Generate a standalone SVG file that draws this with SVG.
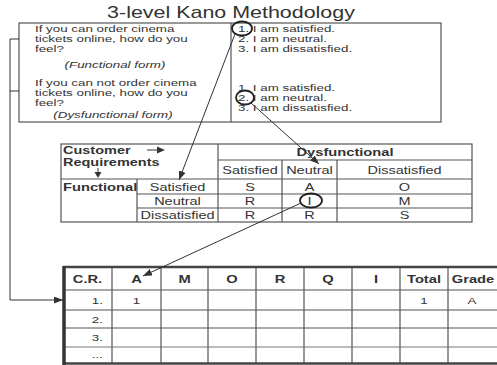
<svg xmlns="http://www.w3.org/2000/svg" width="497" height="365" viewBox="0 0 497 365">
<defs>
<marker id="ah" markerWidth="9" markerHeight="7" refX="9" refY="3.5" orient="auto" markerUnits="userSpaceOnUse"><path d="M0,0 L9,3.5 L0,7 z" fill="#333"/></marker>
</defs>
<style>
text{font-family:"Liberation Sans",Arial,sans-serif;fill:#333}
.q{font-size:9.4px}
.m{font-size:10.5px}
.h{font-size:10px}
.i{font-style:italic}
.b{font-weight:bold}
.c{text-anchor:middle}
.e{text-anchor:end}
.ln{stroke:#555;stroke-width:1.2;fill:none}
.tk{stroke:#444;stroke-width:2.6;fill:none}
.cn{stroke:#333;stroke-width:1;fill:none}
.ov{stroke:#222;stroke-width:1.8;fill:none}
</style>
<rect width="497" height="365" fill="#fff"/>
<text transform="translate(231,18) scale(1.34,1)" class="c" font-size="16">3-level Kano Methodology</text>

<g id="question-box">
<rect class="ln" x="19" y="23" width="422" height="99"/>
<line class="ln" x1="231" y1="23" x2="231" y2="122"/>
<text class="q" transform="translate(35,32) scale(1.42,1)">If you can order cinema</text>
<text class="q" transform="translate(35,42) scale(1.42,1)">tickets online, how do you</text>
<text class="q" transform="translate(35,52) scale(1.42,1)">feel?</text>
<text class="q i c" transform="translate(115,68) scale(1.42,1)">(Functional form)</text>
<text class="q" transform="translate(35,86) scale(1.42,1)">If you can not order cinema</text>
<text class="q" transform="translate(35,96) scale(1.42,1)">tickets online, how do you</text>
<text class="q" transform="translate(35,106) scale(1.42,1)">feel?</text>
<text class="q i c" transform="translate(113,117.5) scale(1.42,1)">(Dysfunctional form)</text>
<text class="q" transform="translate(238,32) scale(1.42,1)">1. I am satisfied.</text>
<text class="q" transform="translate(238,42) scale(1.42,1)">2. I am neutral.</text>
<text class="q" transform="translate(238,51.5) scale(1.42,1)">3. I am dissatisfied.</text>
<text class="q" transform="translate(238,91) scale(1.42,1)">1. I am satisfied.</text>
<text class="q" transform="translate(238,101) scale(1.42,1)">2. I am neutral.</text>
<text class="q" transform="translate(238,110.5) scale(1.42,1)">3. I am dissatisfied.</text>
</g>

<g id="kano-table">
<rect class="ln" x="61" y="144" width="411" height="78"/>
<line class="ln" x1="218" y1="144" x2="218" y2="222"/>
<line class="ln" x1="218" y1="160" x2="472" y2="160"/>
<line class="ln" x1="282" y1="160" x2="282" y2="222"/>
<line class="ln" x1="337" y1="160" x2="337" y2="222"/>
<line class="ln" x1="61" y1="179" x2="472" y2="179"/>
<line class="ln" x1="137" y1="179" x2="137" y2="222"/>
<line class="ln" x1="137" y1="194" x2="472" y2="194"/>
<line class="ln" x1="137" y1="208" x2="472" y2="208"/>
<text class="h b" transform="translate(63,153.5) scale(1.45,1)">Customer</text>
<text class="h b" transform="translate(63,165.5) scale(1.45,1)">Requirements</text>
<line class="cn" x1="147" y1="150" x2="159" y2="150"/>
<path d="M157,146.5 L165,150 L157,153.5 z" fill="#333"/>
<line class="cn" x1="98" y1="168" x2="98" y2="173"/>
<path d="M94.5,172 L98,178 L101.5,172 z" fill="#333"/>
<text class="m b c" transform="translate(345,156) scale(1.4,1)">Dysfunctional</text>
<text class="m c" transform="translate(250,174) scale(1.38,1)">Satisfied</text>
<text class="m c" transform="translate(309.5,174) scale(1.38,1)">Neutral</text>
<text class="m c" transform="translate(404.5,174) scale(1.38,1)">Dissatisfied</text>
<text class="m b" transform="translate(63,190.5) scale(1.4,1)">Functional</text>
<text class="m c" transform="translate(177.5,190.5) scale(1.38,1)">Satisfied</text>
<text class="m c" transform="translate(177.5,204.5) scale(1.38,1)">Neutral</text>
<text class="m c" transform="translate(177.5,218.5) scale(1.38,1)">Dissatisfied</text>
<text class="m c" transform="translate(250,190.5) scale(1.38,1)">S</text>
<text class="m c" transform="translate(309.5,190.5) scale(1.38,1)">A</text>
<text class="m c" transform="translate(404.5,190.5) scale(1.38,1)">O</text>
<text class="m c" transform="translate(250,204.5) scale(1.38,1)">R</text>
<text class="m c" transform="translate(309.5,204.5) scale(1.38,1)">I</text>
<text class="m c" transform="translate(404.5,204.5) scale(1.38,1)">M</text>
<text class="m c" transform="translate(250,218.5) scale(1.38,1)">R</text>
<text class="m c" transform="translate(309.5,218.5) scale(1.38,1)">R</text>
<text class="m c" transform="translate(404.5,218.5) scale(1.38,1)">S</text>
</g>

<g id="result-table">
<line class="ln" x1="63" y1="290" x2="497" y2="290"/>
<line class="ln" x1="63" y1="310" x2="497" y2="310"/>
<line class="ln" x1="63" y1="328" x2="497" y2="328"/>
<line stroke="#bbb" stroke-width="2" x1="63" y1="347" x2="497" y2="347"/>
<line class="ln" x1="112" y1="267" x2="112" y2="364"/>
<line class="ln" x1="161" y1="267" x2="161" y2="364"/>
<line class="ln" x1="208" y1="267" x2="208" y2="364"/>
<line class="ln" x1="256" y1="267" x2="256" y2="364"/>
<line class="ln" x1="304" y1="267" x2="304" y2="364"/>
<line class="ln" x1="352" y1="267" x2="352" y2="364"/>
<line class="ln" x1="400" y1="267" x2="400" y2="364"/>
<line class="ln" x1="448" y1="267" x2="448" y2="364"/>
<line class="tk" x1="63" y1="267" x2="497" y2="267"/>
<line class="tk" x1="63" y1="363.5" x2="497" y2="363.5"/>
<line stroke="#333" stroke-width="3.5" x1="64" y1="266" x2="64" y2="365"/>
<text class="m b c" transform="translate(87.5,283) scale(1.4,1)">C.R.</text>
<text class="m b c" transform="translate(136.5,283) scale(1.4,1)">A</text>
<text class="m b c" transform="translate(184.5,283) scale(1.4,1)">M</text>
<text class="m b c" transform="translate(232,283) scale(1.4,1)">O</text>
<text class="m b c" transform="translate(280,283) scale(1.4,1)">R</text>
<text class="m b c" transform="translate(328,283) scale(1.4,1)">Q</text>
<text class="m b c" transform="translate(376,283) scale(1.4,1)">I</text>
<text class="m b c" transform="translate(424,283) scale(1.4,1)">Total</text>
<text class="m b c" transform="translate(473,283) scale(1.4,1)">Grade</text>
<text class="q e" transform="translate(103,304) scale(1.42,1)">1.</text>
<text class="q e" transform="translate(103,323) scale(1.42,1)">2.</text>
<text class="q e" transform="translate(103,341) scale(1.42,1)">3.</text>
<text class="q e" transform="translate(103,358) scale(1.42,1)">...</text>
<text class="q c" transform="translate(136.5,304) scale(1.42,1)">1</text>
<text class="q c" transform="translate(424,304) scale(1.42,1)">1</text>
<text class="q c" transform="translate(472,304) scale(1.42,1)">A</text>
</g>

<g id="highlights">
<ellipse class="ov" cx="242" cy="28.5" rx="10" ry="7"/>
<ellipse class="ov" cx="245" cy="97.5" rx="9" ry="7"/>
<ellipse class="ov" cx="311" cy="200.5" rx="11" ry="7"/>
</g>

<g id="connectors">
<line class="cn" x1="235" y1="34" x2="179" y2="180" marker-end="url(#ah)"/>
<line class="cn" x1="251" y1="103" x2="319" y2="164" marker-end="url(#ah)"/>
<line class="cn" x1="301" y1="203" x2="143" y2="276" marker-end="url(#ah)"/>
<polyline class="cn" points="19,39 10,39 10,300 63,300" marker-end="url(#ah)"/>
<line class="cn" x1="10" y1="91" x2="19" y2="91"/>
</g>
</svg>
